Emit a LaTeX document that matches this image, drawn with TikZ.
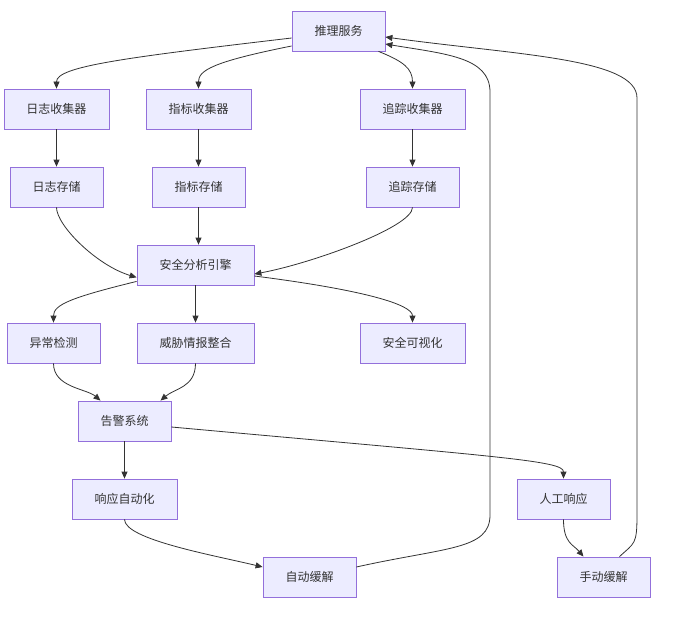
\documentclass[tikz,border=0pt]{standalone}
\usepackage{fontspec}
\setmainfont{Noto Sans CJK SC}
\usetikzlibrary{arrows.meta}
\definecolor{nfill}{HTML}{ECECFF}
\definecolor{nstroke}{HTML}{9370DB}
\definecolor{ltxt}{HTML}{333333}
\tikzset{
  box/.style={draw=nstroke, fill=nfill, line width=0.8pt, minimum height=40pt, inner sep=0pt, text=ltxt, font=\fontsize{12}{14}\selectfont},
  edge/.style={draw=ltxt, line width=0.8pt, -{Triangle[length=7pt,width=6pt]}},
}
\begin{document}
\begin{tikzpicture}[x=1pt,y=-1pt]
\useasboundingbox (0,0) rectangle (686,618);
\node[box, minimum width=93pt] (tl) at (338.5,31) {推理服务};
\node[box, minimum width=105pt] (rz) at (56.5,109) {日志收集器};
\node[box, minimum width=105pt] (zb) at (198.5,109) {指标收集器};
\node[box, minimum width=105pt] (zz) at (412.5,109) {追踪收集器};
\node[box, minimum width=93pt] (rc) at (56.5,187) {日志存储};
\node[box, minimum width=93pt] (zc) at (198.5,187) {指标存储};
\node[box, minimum width=93pt] (zc2) at (412.5,187) {追踪存储};
\node[box, minimum width=117pt] (aq) at (195.5,265) {安全分析引擎};
\node[box, minimum width=93pt] (yc) at (53.5,343) {异常检测};
\node[box, minimum width=117pt] (wx) at (195.5,343) {威胁情报整合};
\node[box, minimum width=105pt] (kv) at (412.5,343) {安全可视化};
\node[box, minimum width=93pt] (gj) at (124.5,421) {告警系统};
\node[box, minimum width=105pt] (xz) at (124.5,499) {响应自动化};
\node[box, minimum width=93pt] (rg) at (563.5,499) {人工响应};
\node[box, minimum width=93pt] (zd) at (309.5,577) {自动缓解};
\node[box, minimum width=93pt] (sd) at (603.5,577) {手动缓解};

\draw[edge] ([yshift=-7pt]tl.west) .. controls +(-170,20) and +(0,-22) .. (rz.north);
\draw[edge] ([yshift=-15pt]tl.west) .. controls +(-80,16) and +(0,-18) .. (zb.north);
\draw[edge] ([xshift=40pt]tl.south) .. controls +(25,10) and +(0,-20) .. (zz.north);
\draw[edge] (rz.south) -- (rc.north);
\draw[edge] (zb.south) -- (zc.north);
\draw[edge] (zz.south) -- (zc2.north);
\draw[edge] (rc.south) .. controls +(0,18) and +(-40,-12) .. ([yshift=8pt]aq.south west);
\draw[edge] (zc.south) -- (zc.south |- aq.north);
\draw[edge] (zc2.south) .. controls +(0,20) and +(55,-10) .. ([yshift=-9pt]aq.east);
\draw[edge] ([yshift=4pt]aq.south west) .. controls +(-65,16) and +(0,-18) .. (yc.north);
\draw[edge] (aq.south) -- (wx.north);
\draw[edge] ([yshift=-11pt]aq.east) .. controls +(110,14) and +(0,-18) .. (kv.north);
\draw[edge] (yc.south) .. controls +(0,24) and +(-14,-12) .. ([xshift=-24pt]gj.north);
\draw[edge] (wx.south) .. controls +(0,24) and +(14,-12) .. ([xshift=36pt]gj.north);
\draw[edge] (gj.south) -- (xz.north);
\draw[edge] ([yshift=-6pt]gj.east) .. controls +(330,30) and +(0,-18) .. (rg.north);
\draw[edge] (xz.south) .. controls +(0,20) and +(-50,-12) .. ([yshift=10pt]zd.west);
\draw[edge] (rg.south) .. controls +(0,24) and +(-10,-12) .. ([xshift=-20pt]sd.north);
\coordinate (a1) at (490,515);
\coordinate (a2) at (490,92);
\coordinate (b1) at (637,515);
\coordinate (b2) at (637,98);
\draw[edge] ([yshift=10pt]zd.east) .. controls +(90,-20) and +(0,35) .. (a1) -- (a2) .. controls +(0,-35) and +(60,10) .. ([yshift=-13pt]tl.east);
\draw[edge] ([xshift=16pt]sd.north) .. controls +(15,-14) and +(0,30) .. (b1) -- (b2) .. controls +(0,-40) and +(130,18) .. ([yshift=-6pt]tl.east);
\end{tikzpicture}
\end{document}
